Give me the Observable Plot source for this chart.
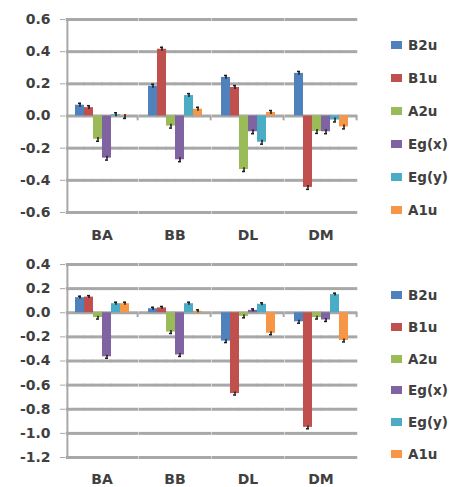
<!DOCTYPE html>
<html><head><meta charset="utf-8">
<script src="https://cdn.jsdelivr.net/npm/d3@7"></script>
<script src="https://cdn.jsdelivr.net/npm/@observablehq/plot@0.6"></script>
<style>
body{margin:0;background:#fff;}
#wrap{position:relative;width:450px;height:487px;overflow:hidden;background:#fff;}
.panel{position:absolute;left:0;}
.legend{position:absolute;left:391px;font:bold 13.5px "DejaVu Sans",sans-serif;color:#404040;}
.legend .row{position:absolute;left:0;display:flex;align-items:center;white-space:nowrap;height:16px;}
.sw{width:11px;height:8px;margin-right:6px;flex:none;}
svg text{fill:#404040;}
</style></head><body><div id="wrap"></div>
<script>
const categories = ["BA", "BB", "DL", "DM"];
const series = ["B2u", "B1u", "A2u", "Eg(x)", "Eg(y)", "A1u"];
const colors = ["#4F81BD", "#C0504D", "#9BBB59", "#8064A2", "#4BACC6", "#F79646"];

// Top panel values, per series across [BA, BB, DL, DM]
const topB2u = [0.067, 0.185, 0.240, 0.265];
const topB1u = [0.052, 0.415, 0.177, -0.444];
const topA2u = [-0.145, -0.063, -0.333, -0.096];
const topEgx = [-0.262, -0.272, -0.098, -0.098];
const topEgy = [0.008, 0.127, -0.163, -0.025];
const topA1u = [-0.003, 0.042, 0.022, -0.068];
const topErr = [0.012, 0.012, 0.012, 0.012];

// Bottom panel values
const botB2u = [0.125, 0.033, -0.235, -0.075];
const botB1u = [0.130, 0.040, -0.670, -0.950];
const botA2u = [-0.040, -0.160, -0.030, -0.040];
const botEgx = [-0.365, -0.350, 0.020, -0.060];
const botEgy = [0.075, 0.075, 0.070, 0.150];
const botA1u = [0.075, 0.012, -0.170, -0.230];
const botErr = [0.012, 0.012, 0.012, 0.012];

const topTicks = [-0.6, -0.4, -0.2, 0.0, 0.2, 0.4, 0.6];
const botTicks = [-1.2, -1.0, -0.8, -0.6, -0.4, -0.2, 0.0, 0.2, 0.4];

function rows(vals, err) {
  return categories.flatMap((c, i) => series.map((s, j) => ({cat: c, ser: s, v: vals[j][i], e: err[i]})));
}
const topData = rows([topB2u, topB1u, topA2u, topEgx, topEgy, topA1u], topErr);
const botData = rows([botB2u, botB1u, botA2u, botEgx, botEgy, botA1u], botErr);

const W = 450, ML = 63, MR = 92, PAD_OUT = 0.8;
const GRID = "#a8a8a8";

function panel(data, yDomain, yTicks, height, mt, mb, fxPad, tickLen) {
  const grid = categories.flatMap(c => series.flatMap(s => yTicks.map(t => ({cat: c, ser: s, t}))));
  const first = series[0], last = series[series.length - 1];
  const band = (W - ML - MR) / categories.length;
  const step = band / (series.length + 2 * PAD_OUT);
  const edgePad = PAD_OUT * step + 1.5;
  const edgeDx = step / 2 + PAD_OUT * step;
  const gridStyle = {fx: "cat", x: "ser", y: "t", stroke: GRID, strokeWidth: 3, insetLeft: -0.5, insetRight: -0.5};
  return Plot.plot({
    width: W, height, marginLeft: ML, marginRight: MR, marginTop: mt, marginBottom: mb,
    style: {fontFamily: '"DejaVu Sans", sans-serif', fontSize: "14px", fontWeight: "bold", color: GRID, background: "white"},
    fx: {domain: categories, padding: 0, label: null, tickSize: 0, tickPadding: fxPad, axis: "bottom"},
    x: {domain: series, paddingInner: 0, paddingOuter: PAD_OUT, axis: null},
    y: {domain: yDomain, ticks: yTicks, tickFormat: d => d.toFixed(1), tickSize: 5, tickPadding: 10, label: null},
    color: {domain: series, range: colors},
    marks: [
      Plot.tickY(grid.filter(d => d.ser !== first && d.ser !== last), gridStyle),
      Plot.tickY(grid.filter(d => d.ser === first), {...gridStyle, insetLeft: -edgePad}),
      Plot.tickY(grid.filter(d => d.ser === last), {...gridStyle, insetRight: -edgePad}),
      Plot.ruleX(categories, {fx: d => d, x: () => last, dx: edgeDx, y1: 0, y2: -tickLen, stroke: GRID, strokeWidth: 2}),
      Plot.ruleX([0], {fx: () => categories[0], x: () => first, dx: -edgeDx, y1: yDomain[0], y2: yDomain[1], stroke: GRID, strokeWidth: 2}),
      Plot.barY(data, {fx: "cat", x: "ser", y: "v", fill: "ser"}),
      Plot.ruleX(data, {fx: "cat", x: "ser", y1: d => d.v - d.e, y2: d => d.v + d.e, stroke: "#1a1a1a", strokeWidth: 1.5}),
      Plot.tickY(data, {fx: "cat", x: "ser", y: d => d.v + (d.v < 0 ? -d.e : d.e), stroke: "#1a1a1a", strokeWidth: 1.5, insetLeft: 3, insetRight: 3})
    ]
  });
}

const wrap = document.getElementById("wrap");
const p1 = panel(topData, [-0.6, 0.6], topTicks, 248, 19, 36, 18, 0.03);
p1.classList.add("panel"); p1.style.top = "0px";
wrap.appendChild(p1);
const p2 = panel(botData, [-1.2, 0.4], botTicks, 239, 16, 30, 17, 0.04);
p2.classList.add("panel"); p2.style.top = "248px";
wrap.appendChild(p2);

function legend(top, spacing) {
  const L = document.createElement("div");
  L.className = "legend";
  L.style.top = "0px";
  series.forEach((s, i) => {
    const r = document.createElement("div");
    r.className = "row";
    r.style.top = (top + i * spacing - 8) + "px";
    const sw = document.createElement("span");
    sw.className = "sw"; sw.style.background = colors[i];
    const t = document.createElement("span");
    t.textContent = s;
    r.appendChild(sw); r.appendChild(t);
    L.appendChild(r);
  });
  wrap.appendChild(L);
}
legend(45, 33);
legend(295, 31.8);
</script>
</body></html>
